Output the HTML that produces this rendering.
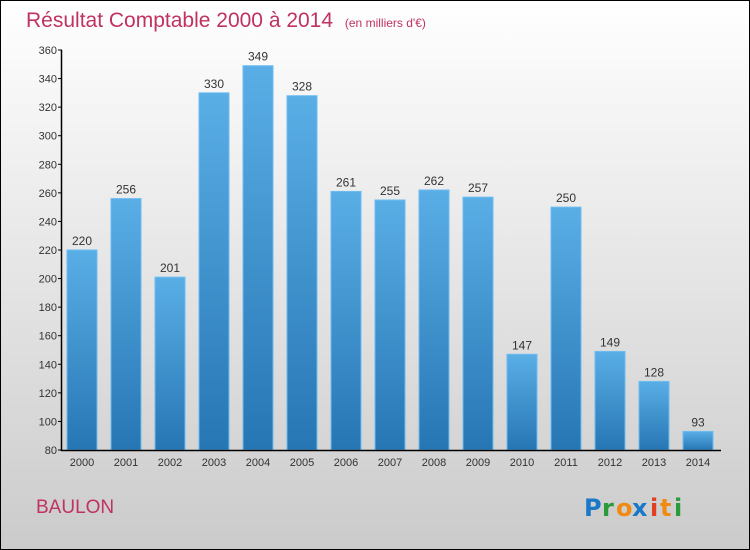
<!DOCTYPE html>
<html><head><meta charset="utf-8"><style>
body{margin:0}
#c{width:748px;height:548px;border:1px solid #000;background:linear-gradient(#fff,#cbcbcb);position:relative;font-family:"Liberation Sans",sans-serif;overflow:hidden}
</style></head><body>
<div id="c">
<svg width="748" height="548" viewBox="1 1 748 548" id="s">
<defs><linearGradient id="g" x1="0" y1="0" x2="0" y2="1"><stop offset="0" stop-color="#5aaee6"/><stop offset="1" stop-color="#2676b4"/></linearGradient></defs>
<text x="26" y="27" font-size="21" fill="#c0325f">Résultat Comptable 2000 à 2014 <tspan font-size="12" dx="6">(en milliers d'€)</tspan></text>
<text x="36" y="513" font-size="19" fill="#c0325f">BAULON</text>
<g font-size="24" font-weight="bold" font-family="'DejaVu Sans',sans-serif"><text x="584" y="516" fill="#1a78c8">P</text><text x="602" y="516" fill="#2a9a3a">r</text><text x="616" y="516" fill="#f08a10">o</text><text x="632" y="516" fill="#1a78c8">x</text><text x="650" y="516" fill="#e04020">i</text><text x="660" y="516" fill="#f08a10">t</text><text x="674" y="516" fill="#2a9a3a">i</text></g>
<g id="ax"></g>
</svg></div>
<script>
const years=["2000","2001","2002","2003","2004","2005","2006","2007","2008","2009","2010","2011","2012","2013","2014"];
const values=[220,256,201,330,349,328,261,255,262,257,147,250,149,128,93];
const ticks=[80,100,120,140,160,180,200,220,240,260,280,300,320,340,360];
const y=v=>450-(v-80)*400/280;
const x=i=>82+i*44;
const ns="http://www.w3.org/2000/svg";
const g=document.getElementById('ax');
function mk(t,a,txt){const e=document.createElementNS(ns,t);for(const k in a)e.setAttribute(k,a[k]);if(txt!==undefined)e.textContent=txt;g.appendChild(e);return e;}
values.forEach((v,i)=>{
 const r=mk('rect',{x:x(i)-15,y:y(v),width:30,height:450-y(v),fill:'url(#g)',stroke:'#6cbcf0','stroke-width':1});
 
 
 const t=mk('text',{x:x(i),y:y(v)-5,'font-size':12,'text-anchor':'middle',fill:'#333'},v);
 
 
 const l=mk('text',{x:x(i),y:466,'font-size':11,'text-anchor':'middle',fill:'#333'},years[i]);
 
 
});
ticks.forEach(t=>{
 const tk=mk('line',{x1:58,x2:62,y1:y(t),y2:y(t),stroke:'#000'});
 
 
 const l=mk('text',{x:57,y:y(t)+4,'font-size':11,'text-anchor':'end',fill:'#333'},t);
 
 
});
const ya=mk('line',{x1:61.5,x2:61.5,y1:50,y2:451,stroke:'#000','stroke-width':1.5});


const xa=mk('line',{x1:61,x2:721,y1:450.5,y2:450.5,stroke:'#000','stroke-width':1.5});


</script>
</body></html>
